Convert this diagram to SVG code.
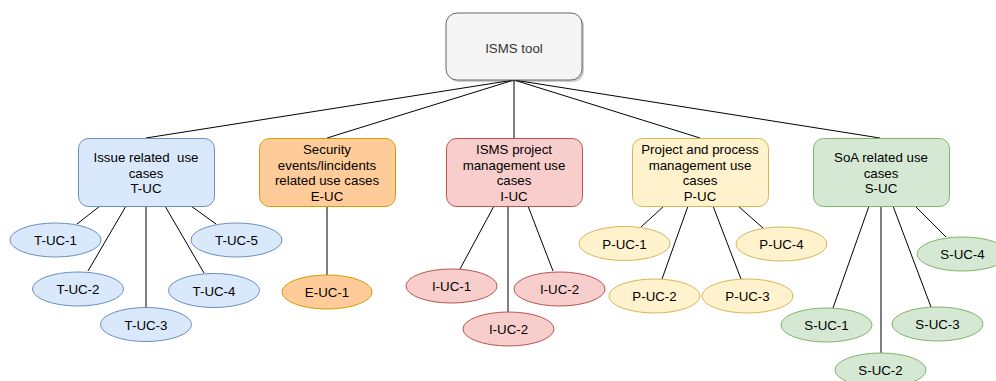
<svg xmlns="http://www.w3.org/2000/svg" width="996" height="381" viewBox="0 0 996 381">
<style>
text{font-family:"Liberation Sans",Arial,Helvetica,sans-serif;font-size:13.3px;fill:#000;text-anchor:middle;white-space:pre}
.c line{stroke:#000;stroke-width:1;fill:none}
.blue{fill:#dae8fc;stroke:#6c8ebf}
.orange{fill:#ffcc99;stroke:#d79b00}
.red{fill:#f8cecc;stroke:#b85450}
.yellow{fill:#fff2cc;stroke:#d6b656}
.green{fill:#d5e8d4;stroke:#82b366}
.root{fill:#f5f5f5;stroke:#666666}
</style>
<rect width="996" height="381" fill="#ffffff"/>
<g class="c" id="connectors">
<line x1="514" y1="80" x2="146" y2="138"/>
<line x1="514" y1="80" x2="327" y2="138"/>
<line x1="514" y1="80" x2="514" y2="138"/>
<line x1="514" y1="80" x2="700" y2="138"/>
<line x1="514" y1="80" x2="880" y2="138"/>
<line x1="100" y1="206" x2="77" y2="224"/>
<line x1="126" y1="206" x2="88" y2="271"/>
<line x1="146" y1="206" x2="146" y2="307"/>
<line x1="165" y1="206" x2="204" y2="273"/>
<line x1="191" y1="206" x2="216" y2="224"/>
<line x1="327" y1="206" x2="327" y2="275"/>
<line x1="494" y1="206" x2="460" y2="269"/>
<line x1="508" y1="206" x2="508" y2="312"/>
<line x1="528" y1="206" x2="553" y2="271"/>
<line x1="664" y1="206" x2="641" y2="227"/>
<line x1="688" y1="206" x2="662" y2="279"/>
<line x1="713" y1="206" x2="741" y2="279"/>
<line x1="738" y1="206" x2="763" y2="228"/>
<line x1="869" y1="206" x2="833" y2="308"/>
<line x1="881" y1="206" x2="881" y2="353"/>
<line x1="893" y1="206" x2="931" y2="307"/>
<line x1="915" y1="206" x2="946" y2="237"/>
</g>
<g id="root">
<rect x="448" y="15" width="136" height="67" rx="11" fill="#000" opacity="0.2"/>
<rect class="root" x="446" y="13" width="136" height="67" rx="11"/>
<text x="514" y="52.5" style="fill:#333333">ISMS tool</text>
</g>
<g id="T-UC">
<rect class="blue" x="78.5" y="138.5" width="136" height="68" rx="10"/>
<text x="146" y="162">Issue related  use</text>
<text x="146" y="177.5">cases</text>
<text x="146" y="193">T-UC</text>
</g>
<g id="E-UC">
<rect class="orange" x="259.5" y="138.5" width="136" height="68" rx="10"/>
<text x="327" y="154">Security</text>
<text x="327" y="169.5">events/lincidents</text>
<text x="327" y="185">related use cases</text>
<text x="327" y="201">E-UC</text>
</g>
<g id="I-UC">
<rect class="red" x="446.5" y="138.5" width="136" height="68" rx="10"/>
<text x="514" y="154">ISMS project</text>
<text x="514" y="169.5">management use</text>
<text x="514" y="185">cases</text>
<text x="514" y="201">I-UC</text>
</g>
<g id="P-UC">
<rect class="yellow" x="632.5" y="138.5" width="136" height="68" rx="10"/>
<text x="700" y="154">Project and process</text>
<text x="700" y="169.5">management use</text>
<text x="700" y="185">cases</text>
<text x="700" y="201">P-UC</text>
</g>
<g id="S-UC">
<rect class="green" x="813.5" y="138.5" width="136" height="68" rx="10"/>
<text x="881" y="162">SoA related use</text>
<text x="881" y="177.5">cases</text>
<text x="881" y="193">S-UC</text>
</g>
<g id="T-UC-1"><ellipse class="blue" cx="55.5" cy="240" rx="45.5" ry="17"/><text x="55.5" y="245">T-UC-1</text></g>
<g id="T-UC-2"><ellipse class="blue" cx="78" cy="289" rx="45.5" ry="17"/><text x="78" y="294">T-UC-2</text></g>
<g id="T-UC-3"><ellipse class="blue" cx="146" cy="324.5" rx="45.5" ry="17"/><text x="146" y="329.5">T-UC-3</text></g>
<g id="T-UC-4"><ellipse class="blue" cx="214" cy="290.5" rx="45.5" ry="17"/><text x="214" y="295.5">T-UC-4</text></g>
<g id="T-UC-5"><ellipse class="blue" cx="236.5" cy="240" rx="45.5" ry="17"/><text x="236.5" y="245">T-UC-5</text></g>
<g id="E-UC-1"><ellipse class="orange" cx="327" cy="292" rx="45" ry="17"/><text x="327" y="297">E-UC-1</text></g>
<g id="I-UC-1"><ellipse class="red" cx="451.5" cy="286" rx="45.5" ry="17"/><text x="451.5" y="291">I-UC-1</text></g>
<g id="I-UC-2a"><ellipse class="red" cx="559.5" cy="289" rx="45.5" ry="17"/><text x="559.5" y="294">I-UC-2</text></g>
<g id="I-UC-2b"><ellipse class="red" cx="508.5" cy="329" rx="45.5" ry="17"/><text x="508.5" y="334">I-UC-2</text></g>
<g id="P-UC-1"><ellipse class="yellow" cx="624.5" cy="243.5" rx="45.5" ry="17"/><text x="624.5" y="248.5">P-UC-1</text></g>
<g id="P-UC-2"><ellipse class="yellow" cx="654.5" cy="296" rx="45.5" ry="17"/><text x="654.5" y="301">P-UC-2</text></g>
<g id="P-UC-3"><ellipse class="yellow" cx="747.5" cy="296" rx="45.5" ry="17"/><text x="747.5" y="301">P-UC-3</text></g>
<g id="P-UC-4"><ellipse class="yellow" cx="781.5" cy="244" rx="45.5" ry="17"/><text x="781.5" y="249">P-UC-4</text></g>
<g id="S-UC-1"><ellipse class="green" cx="826.5" cy="325" rx="45.5" ry="17"/><text x="826.5" y="330">S-UC-1</text></g>
<g id="S-UC-2"><ellipse class="green" cx="880.5" cy="370" rx="45.5" ry="17"/><text x="880.5" y="375">S-UC-2</text></g>
<g id="S-UC-3"><ellipse class="green" cx="937.5" cy="324" rx="45.5" ry="17"/><text x="937.5" y="329">S-UC-3</text></g>
<g id="S-UC-4"><ellipse class="green" cx="962.5" cy="254" rx="45.5" ry="17"/><text x="962.5" y="259">S-UC-4</text></g>
</svg>
